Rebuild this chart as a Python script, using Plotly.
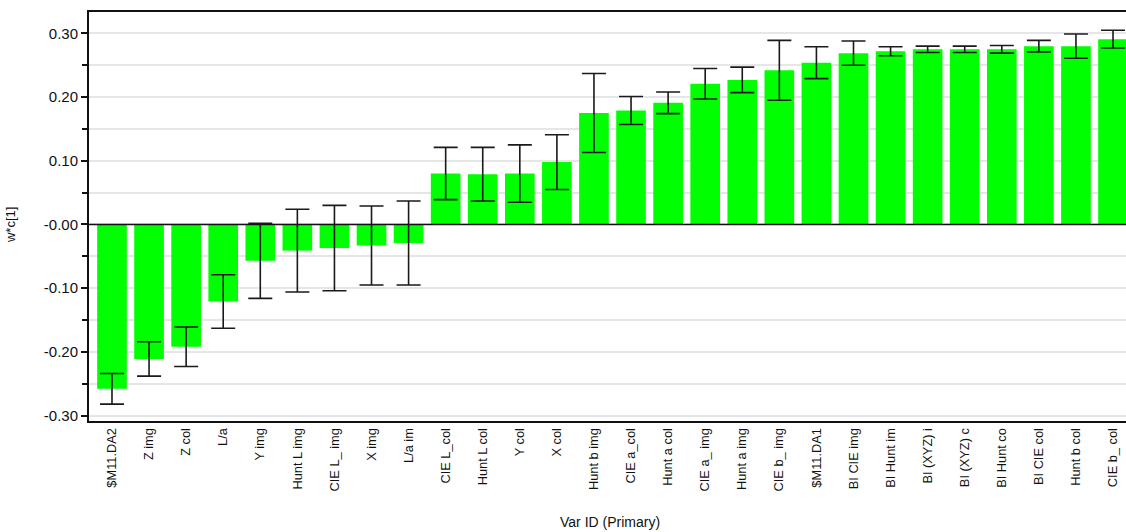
import plotly.graph_objects as go

categories = ["$M11.DA2", "Z img", "Z col", "L/a", "Y img", "Hunt L img", "CIE L_ img",
              "X img", "L/a im", "CIE L_col", "Hunt L col", "Y col", "X col", "Hunt b img",
              "CIE a_col", "Hunt a col", "CIE a_ img", "Hunt a img", "CIE b_ img", "$M11.DA1",
              "BI CIE img", "BI Hunt im", "BI (XYZ) i", "BI (XYZ) c", "BI Hunt co",
              "BI CIE col", "Hunt b col", "CIE b_ col"]
values = [-0.258, -0.211, -0.192, -0.121, -0.057, -0.041, -0.037, -0.033, -0.029,
          0.080, 0.079, 0.080, 0.098, 0.175, 0.179, 0.191, 0.221, 0.227, 0.242, 0.254,
          0.269, 0.272, 0.275, 0.275, 0.275, 0.280, 0.280, 0.291]
errors = [0.024, 0.027, 0.031, 0.042, 0.059, 0.065, 0.067, 0.062, 0.066,
          0.041, 0.042, 0.045, 0.043, 0.062, 0.022, 0.017, 0.024, 0.020, 0.047, 0.025,
          0.019, 0.007, 0.005, 0.005, 0.006, 0.009, 0.019, 0.014]
ytick_vals = [-0.3, -0.2, -0.1, 0.0, 0.1, 0.2, 0.3]
ytick_text = ["-0.30", "-0.20", "-0.10", "-0.00", "0.10", "0.20", "0.30"]

FONT = "Liberation Sans, Arial, sans-serif"

fig = go.Figure()
fig.add_trace(go.Bar(
    x=categories, y=values,
    marker=dict(color="#00ff00", line=dict(width=0)),
    width=0.8,
    error_y=dict(type="data", array=errors, visible=True, color="#1a1a1a",
                 thickness=1.6, width=12),
))

fig.update_layout(
    width=1126, height=532,
    margin=dict(l=89, r=0, t=12, b=111, pad=0),
    plot_bgcolor="white", paper_bgcolor="white",
    showlegend=False,
    font=dict(family=FONT, color="#111111"),
    xaxis=dict(
        type="category", range=[-0.62, 27.35],
        showline=True, linecolor="#111111", linewidth=2, mirror=True,
        ticks="", tickangle=-90, showgrid=False, zeroline=False,
        tickfont=dict(family=FONT, size=12.8, color="#111111"),
    ),
    yaxis=dict(
        range=[-0.3085, 0.3336],
        tickmode="array", tickvals=ytick_vals, ticktext=ytick_text,
        showline=True, linecolor="#111111", linewidth=2,
        ticks="outside", ticklen=6, tickwidth=1.5, tickcolor="#111111",
        showgrid=True, gridcolor="#e6e6e6", gridwidth=1.5,
        zeroline=False,
        tickfont=dict(family=FONT, size=15, color="#111111"),
        minor=dict(dtick=0.05, tick0=0, ticks="outside", ticklen=5, tickwidth=1.5,
                   tickcolor="#111111", showgrid=True, gridcolor="#e6e6e6", gridwidth=1.5),
    ),
    shapes=[dict(type="line", xref="paper", yref="y", x0=0, x1=1, y0=0, y1=0,
                 line=dict(color="#111111", width=1.5), layer="above")],
    annotations=[
        dict(text="Var ID (Primary)", xref="paper", yref="paper", x=0.5024, y=-0.247,
             xanchor="center", yanchor="middle", showarrow=False,
             font=dict(family=FONT, size=14, color="#111111")),
        dict(text="w*c[1]", xref="paper", yref="paper", x=-0.0762, y=0.479,
             xanchor="center", yanchor="middle", showarrow=False, textangle=-90,
             font=dict(family=FONT, size=13, color="#111111")),
    ],
)

fig.write_html("out.html")
